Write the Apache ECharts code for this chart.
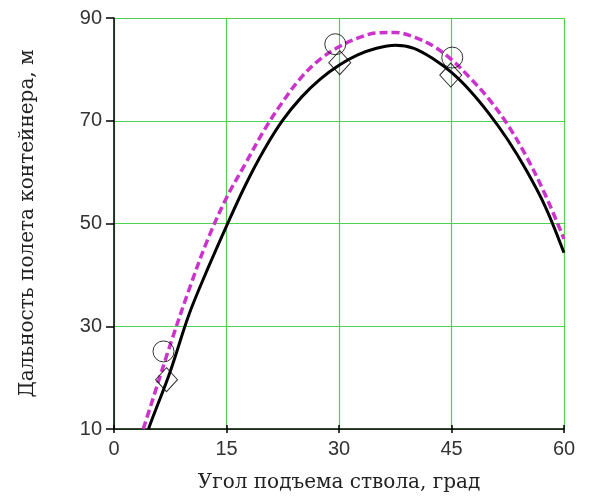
<!DOCTYPE html>
<html>
<head>
<meta charset="utf-8">
<script src="https://cdn.jsdelivr.net/npm/echarts@6/dist/echarts.min.js"></script>
<style>
  html, body { margin: 0; padding: 0; background: #fff; }
  #chart { width: 591px; height: 498px; }
</style>
</head>
<body>
<div id="chart"></div>
<script>
// Elevation angle, degrees, and computed flight range, m (two model curves)
const curveAngles = [4.6, 5, 7.5, 10, 12.5, 15, 17.5, 20, 22.5, 25, 27.5, 30, 32.5, 35, 37.5, 40, 42.5, 45, 47.5, 50, 52.5, 55, 57.5, 60];
const rangeSolid  = [10, 11.6, 21.2, 32.3, 41.2, 49.5, 57.4, 64.3, 70.1, 74.6, 78.1, 80.8, 82.8, 84.1, 84.7, 84.1, 82.1, 79.4, 75.8, 71.4, 66.3, 60.3, 53.3, 44.3];

const dashAngles  = [3.9, 5, 7.5, 10, 12.5, 15, 17.5, 20, 22.5, 25, 27.5, 30, 32.5, 35, 37.5, 40, 42.5, 45, 47.5, 50, 52.5, 55, 57.5, 60];
const rangeDashed = [10, 15, 26.4, 37.1, 46.9, 55.0, 61.6, 68.1, 73.7, 78.5, 82.0, 84.4, 86.1, 87.1, 87.2, 86.3, 84.6, 81.9, 78.3, 74.2, 69.2, 63.0, 55.6, 47.0];

// Measured points
const circleAngles = [6.6, 29.5, 45.1];
const circleRange  = [25.1, 84.9, 82.3];
const diamondAngles = [7.0, 30.1, 44.9];
const diamondRange  = [19.6, 81.3, 78.9];

// Axis ticks
const xTicks = [0, 15, 30, 45, 60];
const yTicks = [10, 30, 50, 70, 90];

const zip = (a, b) => a.map((v, i) => [v, b[i]]);

const chart = echarts.init(document.getElementById('chart'), null, { renderer: 'canvas' });

const labelFont = { fontFamily: 'Liberation Sans, Arial, sans-serif', fontSize: 20, color: '#333' };
const titleFont = { fontFamily: 'DejaVu Serif, serif', fontSize: 20, color: '#222' };

chart.setOption({
  animation: false,
  backgroundColor: '#fff',
  grid: { left: 114, right: 27, top: 18, bottom: 69, containLabel: false },
  xAxis: [{
    type: 'value',
    min: xTicks[0], max: xTicks[xTicks.length - 1], interval: 15,
    name: 'Угол подъема ствола, град',
    nameLocation: 'middle', nameGap: 44,
    nameTextStyle: titleFont,
    axisLine: { show: true, onZero: false, lineStyle: { color: '#000', width: 1.5 } },
    axisTick: { show: true, inside: false, length: 4, lineStyle: { color: '#000', width: 1.5 } },
    axisLabel: Object.assign({ margin: 10 }, labelFont),
    splitLine: { show: true, lineStyle: { color: '#4fd24f', width: 1.2 } }
  }, {
    type: 'value', position: 'bottom',
    min: xTicks[0], max: xTicks[xTicks.length - 1], interval: 15,
    axisLine: { show: false },
    axisTick: { show: true, inside: true, length: 4, lineStyle: { color: '#000', width: 1.5 } },
    axisLabel: { show: false },
    splitLine: { show: false }
  }],
  yAxis: {
    type: 'value',
    min: yTicks[0], max: yTicks[yTicks.length - 1], interval: 20,
    name: 'Дальность полета контейнера, м',
    nameLocation: 'middle', nameGap: 76, nameRotate: 90,
    nameTextStyle: titleFont,
    axisLine: { show: true, onZero: false, lineStyle: { color: '#000', width: 1.5 } },
    axisTick: { show: true, inside: false, length: 8, lineStyle: { color: '#000', width: 1.5 } },
    axisLabel: Object.assign({ margin: 12 }, labelFont),
    splitLine: { show: true, lineStyle: { color: '#4fd24f', width: 1.2 } }
  },
  series: [
    {
      type: 'line', data: zip(dashAngles, rangeDashed), smooth: 0.35,
      showSymbol: false, z: 3,
      lineStyle: { color: '#cc33cc', width: 3.5, type: [8, 4] }
    },
    {
      type: 'line', data: zip(curveAngles, rangeSolid), smooth: 0.35,
      showSymbol: false, z: 4,
      lineStyle: { color: '#000', width: 3 }
    },
    {
      type: 'scatter', data: zip(circleAngles, circleRange), symbol: 'circle', symbolSize: 21, z: 5,
      itemStyle: { color: 'rgba(0,0,0,0)', borderColor: '#000', borderWidth: 1 }
    },
    {
      type: 'scatter', data: zip(diamondAngles, diamondRange), symbol: 'diamond', symbolSize: [22, 24], z: 5,
      itemStyle: { color: 'rgba(0,0,0,0)', borderColor: '#000', borderWidth: 1 }
    }
  ]
});
</script>
</body>
</html>
